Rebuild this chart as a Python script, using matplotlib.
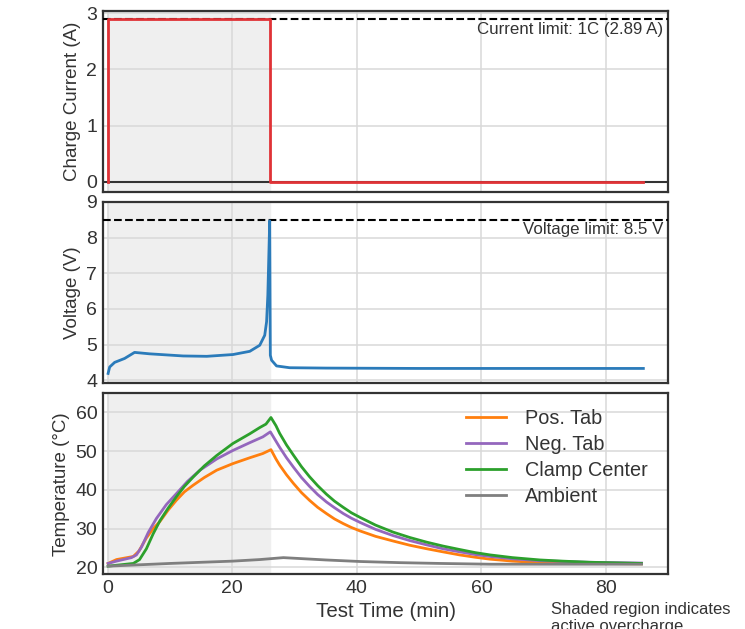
import matplotlib.pyplot as plt

plt.rcParams['font.family'] = ['Liberation Sans', 'DejaVu Sans']
plt.rcParams['text.color'] = '#333333'
plt.rcParams['axes.labelcolor'] = '#333333'
plt.rcParams['xtick.color'] = '#333333'
plt.rcParams['ytick.color'] = '#333333'

# charge current step (A)
t_cur = [0.05, 0.05, 26.0, 26.0, 86.0]
current = [0.0, 2.89, 2.89, 0.0, 0.0]
current_limit = 2.89

# cell voltage (V)
t_volt = [0.05, 0.3, 1.1, 2.7, 4.3, 6.7, 12.1, 15.9, 20.1, 22.8, 24.4, 25.2,
          25.5, 25.7, 26.0, 26.1, 26.3, 27.1, 29.2, 35.0, 50.0, 70.0, 86.0]
voltage = [4.19, 4.37, 4.50, 4.61, 4.78, 4.74, 4.68, 4.67, 4.72, 4.81, 4.98, 5.26,
           5.64, 6.39, 8.47, 4.70, 4.56, 4.40, 4.35, 4.34, 4.33, 4.33, 4.33]
voltage_limit = 8.5

# temperatures (degC)
t_green = [0.05, 4.1, 5.1, 6.2, 7.3, 8.4, 9.7, 11.0, 12.3, 13.7, 15.5, 17.5, 20.1, 22.8,
           24.4, 25.4, 26.2, 27.0, 27.6, 28.7, 29.8, 31.1, 32.4, 33.7, 35.1, 36.4, 37.8,
           39.1, 40.5, 43.0, 45.8, 48.5, 51.2, 53.8, 56.5, 59.0, 61.4, 65.0, 69.4, 73.0,
           77.4, 85.7]
clamp = [20.3, 21.0, 22.0, 24.8, 28.7, 32.1, 35.3, 38.2, 40.9, 43.3, 46.2, 48.9, 52.0, 54.5,
         56.1, 57.0, 58.7, 56.6, 54.6, 51.6, 49.0, 46.0, 43.4, 41.1, 38.9, 37.1, 35.5,
         34.1, 32.9, 30.9, 29.1, 27.7, 26.5, 25.5, 24.6, 23.8, 23.2, 22.5, 21.9, 21.6,
         21.3, 21.0]

t_purple = [0.05, 1.4, 3.8, 4.6, 5.4, 6.5, 7.8, 9.4, 11.0, 12.8, 14.8, 17.5, 20.1, 22.8,
            24.9, 26.1, 27.0, 27.6, 28.7, 29.8, 31.1, 32.4, 33.7, 35.1, 36.4, 37.8, 39.1,
            40.5, 43.0, 45.8, 48.5, 51.2, 53.8, 56.5, 59.0, 61.4, 65.0, 69.4, 77.4, 85.7]
neg_tab = [21.0, 21.6, 22.5, 23.2, 25.2, 29.0, 32.6, 36.2, 39.0, 42.2, 45.1, 48.0, 50.2, 52.2,
           53.7, 55.0, 52.6, 51.0, 48.3, 45.9, 43.2, 40.9, 38.8, 36.9, 35.4, 33.9, 32.7,
           31.6, 29.8, 28.2, 26.9, 25.8, 24.8, 24.0, 23.3, 22.8, 22.2, 21.7, 21.3, 21.1]

t_orange = [0.05, 1.4, 4.1, 5.0, 6.2, 7.3, 8.4, 9.7, 11.0, 12.3, 13.7, 15.5, 17.5, 20.1,
            22.8, 24.9, 26.2, 27.0, 27.6, 28.7, 29.8, 31.1, 32.4, 33.7, 35.1, 36.4, 37.8,
            39.1, 40.5, 43.0, 45.8, 48.5, 51.2, 53.8, 56.5, 59.0, 61.4, 65.0, 69.4, 77.4, 85.7]
pos_tab = [21.0, 22.0, 22.8, 24.2, 27.6, 30.0, 31.9, 34.8, 37.3, 39.5, 41.2, 43.2, 45.1, 46.8,
           48.3, 49.4, 50.4, 48.0, 46.4, 43.9, 41.7, 39.3, 37.3, 35.5, 33.9, 32.5, 31.3,
           30.3, 29.4, 28.0, 26.8, 25.7, 24.8, 24.0, 23.2, 22.6, 22.1, 21.6, 21.2, 21.0, 20.9]

t_amb = [0.05, 10.0, 20.1, 24.4, 28.2, 35.0, 40.5, 47.0, 53.3, 61.4, 70.0, 85.7]
ambient = [20.3, 21.0, 21.6, 22.0, 22.5, 21.9, 21.5, 21.2, 21.0, 20.8, 20.8, 20.8]

fig = plt.figure(figsize=(7.45, 6.29), dpi=100)
left, width = 0.138, 0.759
ax1 = fig.add_axes([left, 0.695, width, 0.2875])
ax2 = fig.add_axes([left, 0.391, width, 0.288])
ax3 = fig.add_axes([left, 0.087, width, 0.288])

for ax in (ax1, ax2, ax3):
    ax.set_xlim(-0.8, 90)
    ax.axvspan(0, 26.0, color='#efefef', zorder=0)
    ax.grid(True, color='#d8d8d8', lw=1.1, zorder=1)
    ax.set_axisbelow(True)
    ax.set_xticks([0, 20, 40, 60, 80])
    ax.tick_params(length=0, labelsize=14, pad=4)
    for s in ax.spines.values():
        s.set_color('#333333')
        s.set_linewidth(1.6)

ax1.tick_params(labelbottom=False)
ax2.tick_params(labelbottom=False)

# current panel
ax1.axhline(0, color='#333333', lw=1.5, zorder=2)
ax1.axhline(current_limit, color='black', ls='--', lw=1.5, zorder=3)
ax1.plot(t_cur, current, color='#e03236', lw=2, zorder=4)
ax1.text(89.2, current_limit - 0.05, 'Current limit: 1C (2.89 A)', ha='right', va='top', fontsize=12.2)
ax1.set_ylim(-0.18, 3.04)
ax1.set_yticks([0, 1, 2, 3])
ax1.set_ylabel('Charge Current (A)', fontsize=13.5)

# voltage panel
ax2.axhline(voltage_limit, color='black', ls='--', lw=1.5, zorder=3)
ax2.plot(t_volt, voltage, color='#2b7bba', lw=2, zorder=4)
ax2.text(89.2, voltage_limit - 0.05, 'Voltage limit: 8.5 V', ha='right', va='top', fontsize=12.2)
ax2.set_ylim(3.92, 9.0)
ax2.set_yticks([4, 5, 6, 7, 8, 9])
ax2.set_ylabel('Voltage (V)', fontsize=13.5)

# temperature panel
ax3.plot(t_orange, pos_tab, color='#ff7f0e', lw=2, label='Pos. Tab', zorder=4)
ax3.plot(t_purple, neg_tab, color='#9467bd', lw=2, label='Neg. Tab', zorder=4)
ax3.plot(t_green, clamp, color='#2ca02c', lw=2, label='Clamp Center', zorder=4)
ax3.plot(t_amb, ambient, color='#7f7f7f', lw=2, label='Ambient', zorder=4)
ax3.set_ylim(18.2, 65)
ax3.set_yticks([20, 30, 40, 50, 60])
ax3.set_ylabel('Temperature (°C)', fontsize=13.5)
ax3.set_xlabel('Test Time (min)', fontsize=14.8, labelpad=4)
ax3.legend(loc='upper right', bbox_to_anchor=(0.996, 1.012), frameon=False, fontsize=14.3,
           handlelength=2.0, handletextpad=1.0, labelspacing=0.36)

fig.text(0.74, 0.043, 'Shaded region indicates\nactive overcharge', fontsize=12, va='top')

fig.savefig('out.png', dpi=100)
